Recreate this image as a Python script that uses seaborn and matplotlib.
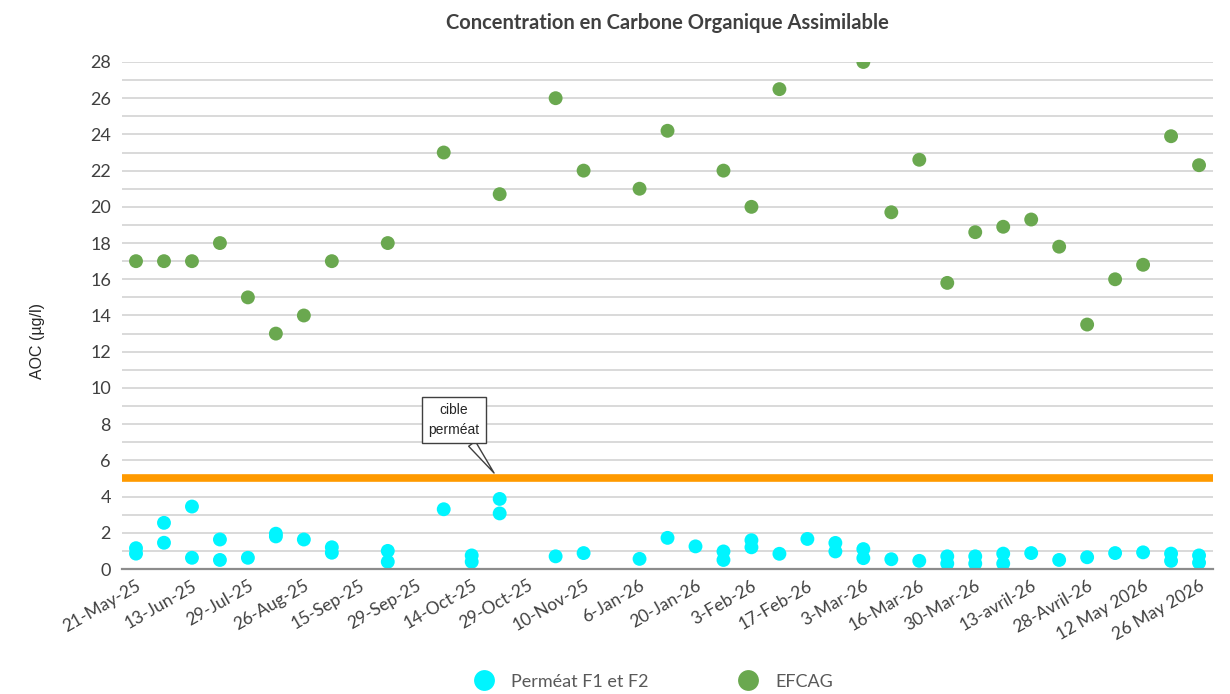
import matplotlib
matplotlib.use("Agg")
import matplotlib.pyplot as plt
import seaborn as sns
import pandas as pd
import numpy as np

# ---- data ----
tick_labels = ["21-May-25", "13-Jun-25", "29-Jul-25", "26-Aug-25", "15-Sep-25",
               "29-Sep-25", "14-Oct-25", "29-Oct-25", "10-Nov-25", "6-Jan-26",
               "20-Jan-26", "3-Feb-26", "17-Feb-26", "3-Mar-26", "16-Mar-26",
               "30-Mar-26", "13-avril-26", "28-Avril-26", "12 May 2026", "26 May 2026"]

permeat_f1_f2 = [[1.15, 0.85], [2.55, 1.45], [3.45, 0.62], [1.63, 0.5], [0.62],
                 [1.95, 1.8], [1.63], [1.2, 0.9], [], [1.0, 0.4],
                 [], [3.3], [0.75, 0.4], [3.87, 3.07], [],
                 [0.7], [0.88], [], [0.56], [1.72],
                 [1.25], [0.97, 0.5], [1.59, 1.2], [0.84], [1.66],
                 [1.44, 0.97], [1.1, 0.6], [0.54], [0.45], [0.7, 0.3],
                 [0.7, 0.3], [0.85, 0.3], [0.88], [0.5], [0.65],
                 [0.88], [0.92], [0.85, 0.45], [0.75, 0.35]]

efcag = [17, 17, 17, 18, 15, 13, 14, 17, None, 18,
         None, 23, None, 20.7, None, 26, 22, None, 21, 24.2,
         None, 22, 20, 26.5, None, None, 28, 19.7, 22.6, 15.8,
         18.6, 18.9, 19.3, 17.8, 13.5, 16, 16.8, 23.9, 22.3]

cible_permeat = 5

series_names = ["Perméat F1 et F2", "EFCAG"]
colors = {"Perméat F1 et F2": "#00F5FF", "EFCAG": "#6AA84F"}

# ---- build long table ----
rows = []
for i, vals in enumerate(permeat_f1_f2):
    for v in vals:
        rows.append({"pos": i, "AOC": v, "serie": series_names[0]})
for i, v in enumerate(efcag):
    if v is not None:
        rows.append({"pos": i, "AOC": v, "serie": series_names[1]})
df = pd.DataFrame(rows)
n_cat = len(efcag)

# ---- plot ----
sns.set_style("white")
plt.rcParams["font.family"] = ["Lato", "DejaVu Sans"]

fig = plt.figure(figsize=(12.3, 6.94), dpi=100)
ax = fig.add_axes([0.0992, 0.1801, 0.8870, 0.7306])

ax.axhline(cible_permeat, color="#FF9A00", lw=5.5, zorder=2)

sns.scatterplot(data=df, x="pos", y="AOC", hue="serie", hue_order=series_names,
                palette=colors, s=100, linewidth=0, ax=ax, zorder=3)

ax.set_xlim(-0.5, n_cat - 0.5)
ax.set_ylim(0, 28)
ax.set_yticks(np.arange(0, 29, 2))
ax.set_yticks(np.arange(1, 28, 2), minor=True)
ax.grid(which="both", axis="y", color="#d9d9d9", lw=1.4, zorder=0)
ax.set_axisbelow(True)

ax.set_xticks(np.arange(0, n_cat, 2))
ax.set_xticklabels(tick_labels, rotation=30, ha="right", rotation_mode="anchor",
                   fontsize=12.5, color="#404040")
ax.tick_params(axis="y", labelsize=13, labelcolor="#404040", length=0, pad=8)
ax.tick_params(axis="x", length=0, pad=6)
ax.tick_params(which="minor", length=0)

for s in ["left", "right", "top"]:
    ax.spines[s].set_visible(False)
ax.spines["bottom"].set_color("#8c8c8c")
ax.spines["bottom"].set_linewidth(1.6)
ax.spines["bottom"].set_zorder(4)

ax.set_xlabel("")
ax.set_ylabel("AOC (µg/l)", fontsize=11.5, color="#262626",
              family=["Liberation Sans", "DejaVu Sans"])
ax.yaxis.set_label_coords(-0.071, 0.45)
ax.set_title("Concentration en Carbone Organique Assimilable", fontsize=14.5,
             fontweight="bold", color="#404040", pad=24)

ax.annotate("cible\nperméat", xy=(12.8, 5.3), xytext=(11.37, 8.23),
            textcoords="data", ha="center", va="center", fontsize=10,
            family=["Liberation Sans", "DejaVu Sans"], color="#262626",
            linespacing=1.55,
            bbox=dict(boxstyle="square,pad=0.45", fc="white", ec="#404040", lw=1),
            arrowprops=dict(arrowstyle="wedge,tail_width=0.6", fc="white",
                            ec="#404040", lw=1, shrinkA=0, shrinkB=0),
            zorder=5)

sns.move_legend(ax, "center", bbox_to_anchor=(0.528, 0.018),
                bbox_transform=fig.transFigure, ncol=2, frameon=False,
                title=None, fontsize=13, markerscale=1.5,
                columnspacing=4.5, handletextpad=0.5)
for t in ax.get_legend().get_texts():
    t.set_color("#595959")

fig.savefig("out.png", dpi=100)
